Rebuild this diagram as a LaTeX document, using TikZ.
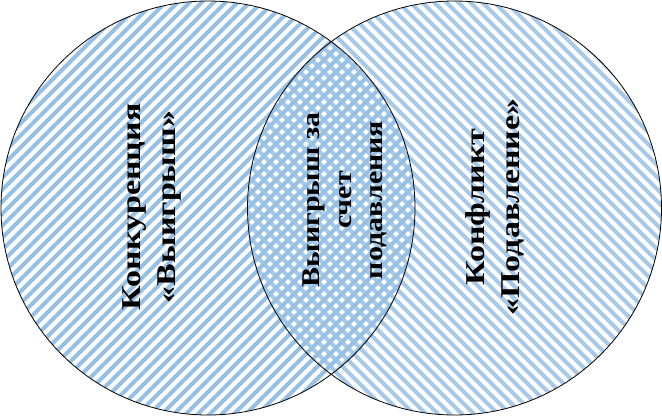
\documentclass[tikz,border=0pt]{standalone}
\usepackage{fontspec}
\setmainfont{Liberation Serif}
\definecolor{hatch}{RGB}{150,192,228}

\begin{document}
\begin{tikzpicture}[x=1pt, y=-1pt,
    hatchline/.style={draw=hatch, line width=4.2pt},
    ring/.style={draw=black, line width=0.8pt},
    biglbl/.style={rotate=90, yscale=0.8, inner sep=0pt, align=center, font=\fontsize{34}{44}\selectfont\bfseries},
    midlbl/.style={rotate=90, yscale=0.85, inner sep=0pt, align=center, font=\fontsize{30}{37}\selectfont\bfseries}
]
    \useasboundingbox (0,0) rectangle (662,416);

    % Circle centres
    \coordinate (lc) at (208,208);
    \coordinate (rc) at (454.5,208);

    % Hatching of the left circle
    \begin{scope}
        \clip (lc) circle (207);
        \foreach \c in {0,12,...,840}
            \draw[hatchline] (\c,0) -- (\c-416,416);
    \end{scope}

    % Hatching of the right circle
    \begin{scope}
        \clip (rc) circle (207);
        \foreach \c in {-420,-408,...,670}
            \draw[hatchline, opacity=0.85] (\c,0) -- (\c+416,416);
    \end{scope}

    % Outlines
    \draw[ring] (lc) circle (207);
    \draw[ring] (rc) circle (207);

    % Labels
    \node[biglbl] (konk) at (152,207) {Конкуренция\\«Выигрыш»};
    \node[midlbl] (vyigr) at (345,200) {Выигрыш за\\счет\\подавления};
    \node[biglbl] (konfl) at (495,207) {Конфликт\\«Подавление»};
\end{tikzpicture}
\end{document}
